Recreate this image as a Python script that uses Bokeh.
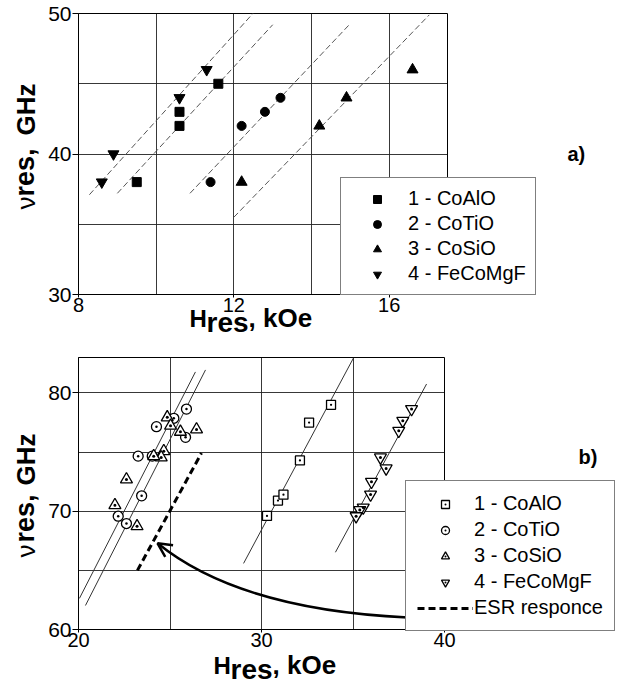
from bokeh.plotting import figure
from bokeh.models import Range1d, FixedTicker, Label, Legend, LegendItem, Arrow, OpenHead
from bokeh.layouts import column
from bokeh.embed import file_html
from bokeh.resources import INLINE

# ---------------- panel a) data ----------------
a_xlim = (8, 17.5)
a_ylim = (30, 50)
a_xticks = [8, 12, 16]
a_yticks = [30, 40, 50]
a_xgrid = [10, 12, 14, 16]
a_ygrid = [35, 40, 45]

a_coalo_x = [9.5, 10.6, 10.6, 11.6]
a_coalo_y = [38, 42, 43, 45]
a_cotio_x = [11.4, 12.2, 12.8, 13.2]
a_cotio_y = [38, 42, 43, 44]
a_cosio_x = [12.2, 14.2, 14.9, 16.6]
a_cosio_y = [38, 42, 44, 46]
a_fecomgf_x = [8.6, 8.9, 10.6, 11.3]
a_fecomgf_y = [38, 40, 44, 46]

a_fit_fecomgf_x = [8.28, 12.49]
a_fit_fecomgf_y = [37.1, 50.0]
a_fit_coalo_x = [9.0, 13.0]
a_fit_coalo_y = [37.2, 49.2]
a_fit_cotio_x = [10.87, 14.97]
a_fit_cotio_y = [37.2, 49.2]
a_fit_cosio_x = [12.0, 17.03]
a_fit_cosio_y = [35.5, 49.9]

# ---------------- panel b) data ----------------
b_xlim = (20, 40)
b_ylim = (60, 83)
b_xticks = [20, 30, 40]
b_yticks = [60, 70, 80]
b_xgrid = [25, 30, 35]
b_ygrid = [65, 70, 75, 80]

b_coalo_x = [30.3, 30.9, 31.2, 32.1, 32.6, 33.8]
b_coalo_y = [69.6, 70.9, 71.4, 74.3, 77.5, 79.0]
b_cotio_x = [22.17, 22.62, 23.45, 23.26, 24.03, 24.26, 25.21, 25.85, 25.9]
b_cotio_y = [69.58, 68.96, 71.3, 74.66, 74.66, 77.15, 77.86, 76.25, 78.64]
b_cosio_x = [24.85, 25.03, 25.57, 26.45, 24.66, 24.52, 24.11, 22.62, 21.99, 23.2]
b_cosio_y = [77.94, 77.23, 76.72, 76.92, 75.08, 74.55, 74.66, 72.69, 70.51, 68.73]
b_fecomgf_x = [38.2, 37.72, 37.5, 36.5, 36.81, 36.01, 35.96, 35.56, 35.37, 35.17]
b_fecomgf_y = [78.64, 77.65, 76.8, 74.55, 73.62, 72.49, 71.41, 70.31, 70.1, 69.58]

b_fit_coalo_x = [29.02, 35.03]
b_fit_coalo_y = [65.59, 82.97]
b_fit_cotio_x = [20.05, 26.39]
b_fit_cotio_y = [62.63, 81.78]
b_fit_cosio_x = [20.38, 26.94]
b_fit_cosio_y = [62.03, 81.95]
b_fit_fecomgf_x = [34.04, 39.02]
b_fit_fecomgf_y = [66.53, 80.76]
b_esr_x = [23.22, 26.72]
b_esr_y = [65.0, 74.92]

arrow_pts_x = [37.98, 32.13, 27.49, 24.32]
arrow_pts_y = [61.02, 61.44, 63.31, 67.29]
arrow_head_from = (25.23, 66.34)

FONT = "Liberation Sans"
W = 620
BL = 0.38  # em fraction: correction for where the svg backend puts the alphabetic baseline


def ranges(xlim, ylim, px_l, px_r, px_t, px_b, width, height):
    sx = (px_r - px_l) / (xlim[1] - xlim[0])
    sy = (px_b - px_t) / (ylim[1] - ylim[0])
    xr = Range1d(xlim[0] - px_l / sx, xlim[1] + (width - px_r) / sx)
    yr = Range1d(ylim[0] - (height - px_b) / sy, ylim[1] + px_t / sy)
    return xr, yr


def make_fig(xlim, ylim, box, height, xticks, yticks, xgrid, ygrid):
    xr, yr = ranges(xlim, ylim, *box, W, height)
    p = figure(width=W, height=height, output_backend="svg", toolbar_location=None,
               x_range=xr, y_range=yr, min_border=0)
    p.background_fill_color = "white"
    p.border_fill_color = "white"
    p.outline_line_color = None
    p.quad(left=[xlim[0]], right=[xlim[1]], bottom=[ylim[0]], top=[ylim[1]],
           fill_color=None, line_color="black", line_width=1)
    p.xaxis.fixed_location = ylim[0]
    p.yaxis.fixed_location = xlim[0]
    p.xaxis.bounds = xlim
    p.yaxis.bounds = ylim
    p.xaxis.ticker = FixedTicker(ticks=xticks, minor_ticks=[])
    p.yaxis.ticker = FixedTicker(ticks=yticks, minor_ticks=[])
    p.xgrid.ticker = FixedTicker(ticks=xgrid, minor_ticks=[])
    p.ygrid.ticker = FixedTicker(ticks=ygrid, minor_ticks=[])
    p.xgrid.bounds = xlim
    p.xgrid.cross_bounds = ylim
    p.ygrid.bounds = ylim
    p.ygrid.cross_bounds = xlim
    for g in (p.xgrid, p.ygrid):
        g.grid_line_color = "#222222"
        g.grid_line_width = 1
        g.grid_line_alpha = 0.9
    for ax in (p.xaxis, p.yaxis):
        ax.axis_line_color = "black"
        ax.major_tick_line_color = "black"
        ax.minor_tick_line_color = None
        ax.major_tick_in = 0
        ax.major_label_text_font = FONT
        ax.major_label_text_color = "black"
    p.xaxis.major_tick_out = 3
    p.xaxis.major_label_standoff = 0
    p.xaxis.major_label_text_font_size = "20px"
    p.yaxis.major_tick_out = 6
    p.yaxis.major_label_standoff = 1
    p.yaxis.major_label_text_font_size = "21px"
    return p


def lab(p, text, px, base, size, bold=True):
    """Horizontal text: px = left edge, base = baseline, both in canvas pixels from top-left."""
    p.add_layout(Label(x=px, y=p.height - base + BL * size, x_units="screen", y_units="screen",
                       text=text, text_font=FONT, text_font_size=f"{size}px",
                       text_font_style="bold" if bold else "normal",
                       text_color="black", text_align="left", text_baseline="alphabetic"))


def vlab(p, text, base, start, size, bold=True):
    """Text rotated 90 deg: base = baseline x, start = bottom end, canvas pixels."""
    p.add_layout(Label(x=base - BL * size, y=p.height - start, x_units="screen", y_units="screen",
                       text=text, text_font=FONT, text_font_size=f"{size}px",
                       text_font_style="bold" if bold else "normal",
                       text_color="black", angle=1.5707963267948966,
                       text_align="left", text_baseline="alphabetic"))


def make_legend(items, loc, size, pad, spacing, gw, standoff):
    lg = Legend(items=items, location=loc)
    lg.label_text_font = FONT
    lg.label_text_font_size = f"{size}px"
    lg.label_text_color = "black"
    lg.border_line_color = "black"
    lg.border_line_width = 1
    lg.background_fill_color = "white"
    lg.background_fill_alpha = 1
    lg.padding = pad
    lg.margin = 0
    lg.spacing = spacing
    lg.glyph_width = gw
    lg.glyph_height = 20
    lg.label_height = 20
    lg.label_standoff = standoff
    return lg


# ================= panel a =================
HA = 350
pa = make_fig(a_xlim, a_ylim, (78, 447, 13, 294), HA, a_xticks, a_yticks, a_xgrid, a_ygrid)

for fx, fy in [(a_fit_fecomgf_x, a_fit_fecomgf_y), (a_fit_coalo_x, a_fit_coalo_y),
               (a_fit_cotio_x, a_fit_cotio_y), (a_fit_cosio_x, a_fit_cosio_y)]:
    pa.line(fx, fy, line_color="#555555", line_width=1, line_dash="6 3")

ra1 = pa.scatter(a_coalo_x, a_coalo_y, marker="square", size=9, color="black")
ra2 = pa.scatter(a_cotio_x, a_cotio_y, marker="circle", size=9, color="black")
ra3 = pa.scatter(a_cosio_x, a_cosio_y, marker="triangle", size=11, color="black")
ra4 = pa.scatter(a_fecomgf_x, a_fecomgf_y, marker="inverted_triangle", size=11, color="black")

leg_a = make_legend([LegendItem(label="1 - CoAlO", renderers=[ra1]),
                     LegendItem(label="2 - CoTiO", renderers=[ra2]),
                     LegendItem(label="3 - CoSiO", renderers=[ra3]),
                     LegendItem(label="4 - FeCoMgF", renderers=[ra4])],
                    (340, HA - 295), 20, 9, 2, 54, 4)
pa.add_layout(leg_a)

lab(pa, "H", 189, 327, 24)
lab(pa, "res", 206, 333, 28)
lab(pa, ", kOe", 248, 327, 26)
vlab(pa, "\u03bd", 35, 209, 26, bold=False)
vlab(pa, "res,", 35, 196, 27)
vlab(pa, "GHz", 35, 135, 26)
lab(pa, "a)", 567, 161, 20)

# ================= panel b =================
HB = 339
OFF = HA  # page offset of panel b
pb = make_fig(b_xlim, b_ylim, (78, 444, 357 - OFF, 629 - OFF), HB, b_xticks, b_yticks, b_xgrid, b_ygrid)

for fx, fy in [(b_fit_coalo_x, b_fit_coalo_y), (b_fit_cotio_x, b_fit_cotio_y),
               (b_fit_cosio_x, b_fit_cosio_y), (b_fit_fecomgf_x, b_fit_fecomgf_y)]:
    pb.line(fx, fy, line_color="#333333", line_width=1)

r_esr = pb.line(b_esr_x, b_esr_y, line_color="black", line_width=3, line_dash="7 4")

pb.bezier(x0=[arrow_pts_x[0]], y0=[arrow_pts_y[0]], cx0=[arrow_pts_x[1]], cy0=[arrow_pts_y[1]],
          cx1=[arrow_pts_x[2]], cy1=[arrow_pts_y[2]], x1=[arrow_pts_x[3]], y1=[arrow_pts_y[3]],
          line_color="black", line_width=2.5)
pb.add_layout(Arrow(end=OpenHead(size=14, line_width=2.5, line_color="black"),
                    x_start=arrow_head_from[0], y_start=arrow_head_from[1],
                    x_end=arrow_pts_x[3], y_end=arrow_pts_y[3], line_alpha=0))

mk = dict(line_color="black", fill_color="white", line_width=1.3)
rb1 = pb.scatter(b_coalo_x, b_coalo_y, marker="square_dot", size=9, **mk)
rb2 = pb.scatter(b_cotio_x, b_cotio_y, marker="circle_dot", size=10, **mk)
rb3 = pb.scatter(b_cosio_x, b_cosio_y, marker="triangle_dot", size=12, **mk)
rb4 = pb.scatter(b_fecomgf_x, b_fecomgf_y, marker="inverted_triangle", size=12, **mk)
rb4d = pb.scatter(b_fecomgf_x, b_fecomgf_y, marker="dot", size=12, line_color="black", fill_color="black")

leg_b = make_legend([LegendItem(label="1 - CoAlO", renderers=[rb1]),
                     LegendItem(label="2 - CoTiO", renderers=[rb2]),
                     LegendItem(label="3 - CoSiO", renderers=[rb3]),
                     LegendItem(label="4 - FeCoMgF", renderers=[rb4, rb4d]),
                     LegendItem(label="ESR responce", renderers=[r_esr])],
                    (405, HB - (631 - OFF)), 20, 11, 3, 56, 1)
pb.add_layout(leg_b)

lab(pb, "H", 213, 674 - OFF, 24)
lab(pb, "res", 230, 680 - OFF, 28)
lab(pb, ", kOe", 272, 674 - OFF, 26)
vlab(pb, "\u03bd", 35, 557 - OFF, 26, bold=False)
vlab(pb, "res,", 35, 542 - OFF, 27)
vlab(pb, "GHz", 35, 485 - OFF, 26)
lab(pb, "b)", 578, 464 - OFF, 20)

layout = column(pa, pb)
open("out.html", "w").write(file_html(layout, INLINE))
